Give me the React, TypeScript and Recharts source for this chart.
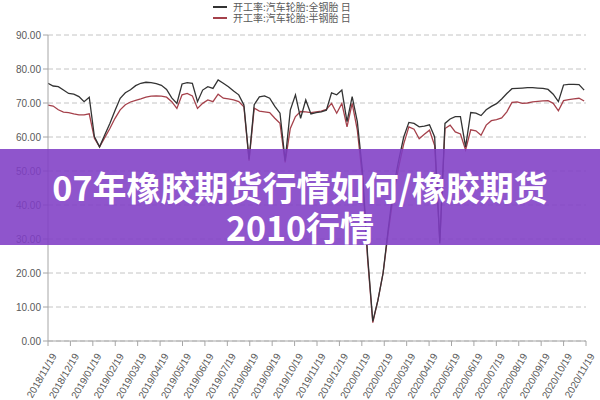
import React from 'react';
import { LineChart, Line, XAxis, YAxis, CartesianGrid } from 'recharts';

const startDate = '2018-11-19';
const tickLabels = [
  '2018/11/19', '2018/12/19', '2019/01/19', '2019/02/19', '2019/03/19', '2019/04/19',
  '2019/05/19', '2019/06/19', '2019/07/19', '2019/08/19', '2019/09/19', '2019/10/19',
  '2019/11/19', '2019/12/19', '2020/01/19', '2020/02/19', '2020/03/19', '2020/04/19',
  '2020/05/19', '2020/06/19', '2020/07/19', '2020/08/19', '2020/09/19', '2020/10/19',
  '2020/11/19',
];
const yTicks = [0, 10, 20, 30, 40, 50, 60, 70, 80, 90];

const seriesNames = ['开工率:汽车轮胎:全钢胎 日', '开工率:汽车轮胎:半钢胎 日'];
const seriesColors = ['#333333', '#a5414b'];

// weekly readings
const allSteel = [
  75.8, 75.0, 74.8, 73.8, 72.8, 72.6, 71.9, 70.4, 71.7, 60.1,
  57.1, 60.6, 64.0, 67.8, 71.4, 73.0, 73.9, 75.1, 75.8, 76.1,
  76.0, 75.7, 75.2, 74.0, 71.5, 69.9, 75.6, 76.0, 75.8, 70.4,
  73.8, 74.8, 74.3, 76.8, 75.8, 74.8, 73.5, 72.4, 69.4, 53.5,
  69.5, 71.8, 72.1, 71.4, 69.0, 67.0, 53.0, 67.9, 72.4, 65.5,
  70.9, 66.8, 67.2, 67.4, 67.9, 73.0, 72.4, 73.8, 64.5, 71.9,
  64.5, 50.0, 25.0, 5.8, 12.0, 20.0, 33.0, 45.0, 53.0, 60.0,
  64.3, 64.0, 63.0, 63.2, 63.6, 60.0, 28.7, 64.0, 65.3, 66.0,
  66.0, 57.1, 67.2, 67.0, 66.3, 68.0, 69.0, 69.8, 71.2, 72.8,
  74.2, 74.3, 74.4, 74.5, 74.5, 74.4, 74.3, 74.0, 72.6, 70.4,
  75.3, 75.5, 75.5, 75.4, 73.8,
];
const semiSteel = [
  69.4, 69.1, 68.0, 67.3, 67.2, 66.8, 66.5, 66.5, 66.8, 59.6,
  57.1, 59.8, 62.5, 65.5, 68.0, 69.5, 70.3, 70.8, 71.2, 71.7,
  72.0, 72.1, 72.0, 71.7, 70.4, 68.4, 72.4, 72.8, 72.1, 68.4,
  69.9, 70.9, 70.4, 72.6, 71.4, 71.2, 70.9, 70.4, 68.9, 53.0,
  68.5, 67.6, 67.4, 67.2, 65.5, 64.0, 52.5, 62.5, 66.0, 67.5,
  67.4, 67.2, 67.4, 67.6, 68.1, 69.9, 67.0, 69.9, 63.0, 69.9,
  62.0, 48.0, 24.0, 5.4, 12.0, 20.0, 32.0, 43.0, 51.0, 58.0,
  63.0, 62.3, 59.5, 60.8, 62.0, 57.5, 29.5, 62.5, 63.5, 61.5,
  60.9, 56.2, 62.1, 61.8, 60.5, 63.5, 64.8, 65.1, 65.6, 67.4,
  70.2, 70.3, 69.9, 70.0, 70.3, 70.5, 70.6, 70.7, 69.9, 67.7,
  70.7, 71.0, 71.2, 71.4, 70.6,
];

const titleLines = ['07年橡胶期货行情如何/橡胶期货', '2010行情'];

const DAY = 86400000;
const start = new Date(startDate + 'T00:00:00Z').getTime();
const data = allSteel.map((v, i) => {
  const t = start + i * 7 * DAY;
  const days = (t - start) / DAY;
  return { x: days / 30.4375, a: v, b: semiSteel[i] };
});
const xTicks = tickLabels.map((_, i) => i);

const axisFont = '"Liberation Sans", Arial, sans-serif';
const cjkFont = '"Noto Sans CJK SC", "Noto Sans", sans-serif';

const XTick = (props: any) => {
  const { x, y, payload } = props;
  return (
    <g transform={`translate(${x + 9},${y + 8})`}>
      <text x={0} y={0} textAnchor="end" transform="rotate(-60)" fontSize={10} fontFamily={axisFont} fill="#595959">
        {tickLabels[payload.value]}
      </text>
    </g>
  );
};

export default function App() {
  return (
    <div style={{ position: 'relative', width: 600, height: 400, background: '#fff', overflow: 'hidden' }}>
      <style>{'body{margin:0}'}</style>
      <LineChart width={600} height={400} data={data} margin={{ top: 35, right: 14, left: 0, bottom: 0 }}>
        <CartesianGrid vertical={false} stroke="#c4c4c4" strokeDasharray="5 3" />
        <XAxis
          dataKey="x"
          type="number"
          domain={[0, 24]}
          ticks={xTicks}
          interval={0}
          height={59}
          tick={<XTick />}
          tickSize={5}
          stroke="#a6a6a6"
          allowDataOverflow
        />
        <YAxis
          type="number"
          domain={[0, 90]}
          ticks={yTicks}
          interval={0}
          width={48}
          tickSize={5}
          stroke="#a6a6a6"
          tickFormatter={(v: number) => v.toFixed(2)}
          tick={{ fontSize: 10, fontFamily: axisFont, fill: '#595959' }}
        />
        <Line type="linear" dataKey="b" stroke={seriesColors[1]} strokeWidth={1.3} dot={false} isAnimationActive={false} />
        <Line type="linear" dataKey="a" stroke={seriesColors[0]} strokeWidth={1.3} dot={false} isAnimationActive={false} />
      </LineChart>

      {seriesColors.map((c, i) => (
        <div key={c} style={{ position: 'absolute', left: 213, top: 6 + i * 11, width: 14, height: 1.5, background: c }} />
      ))}
      <div style={{ position: 'absolute', left: 233, top: 1, fontSize: 10, lineHeight: '11px', fontFamily: cjkFont, color: '#595959', whiteSpace: 'nowrap' }}>
        {seriesNames[0]}
        <br />
        {seriesNames[1]}
      </div>

      <div style={{ position: 'absolute', left: 0, top: 149, width: 600, height: 96, background: 'rgba(127,62,197,0.88)' }} />
      <div style={{ position: 'absolute', left: 0, top: 167, width: 600, lineHeight: '40px', textAlign: 'center', color: '#fff', fontFamily: cjkFont, fontWeight: 700, fontSize: 34, whiteSpace: 'nowrap' }}>
        {titleLines[0]}
        <br />
        {titleLines[1]}
      </div>
    </div>
  );
}
